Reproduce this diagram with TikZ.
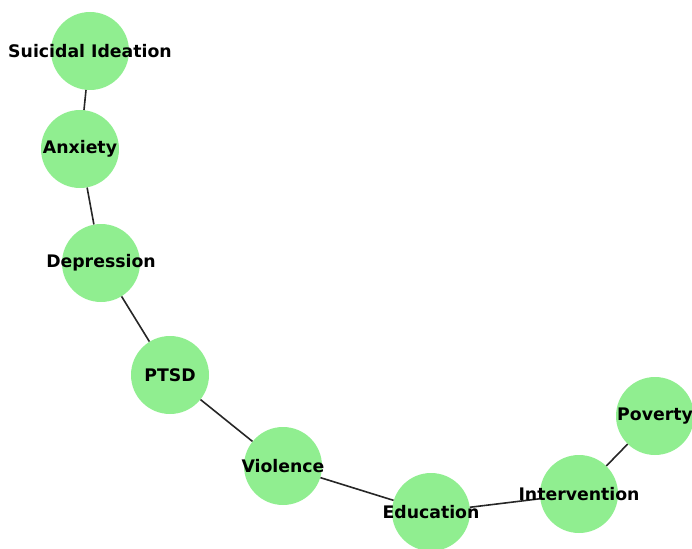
\documentclass[tikz,border=0pt]{standalone}
\usepackage{fontspec}
\setsansfont{DejaVu Sans}
\usepackage{tikz}
\usetikzlibrary{positioning}
\definecolor{lightgreen}{HTML}{90EE90}

\begin{document}
\begin{tikzpicture}[x=1pt,y=-1pt,
  main node/.style={circle,fill=lightgreen,minimum size=78pt,inner sep=0pt},
  main label/.style={font=\sffamily\bfseries\fontsize{17.3}{20}\selectfont,text=black}]
					\useasboundingbox (0,0) rectangle (692,548);
					\node[main node] (SI) at (90,51) {};
					\node[main node] (Anx) at (80,149) {};
					\node[main node] (Dep) at (101,263) {};
					\node[main node] (PTSD) at (170,375) {};
					\node[main node] (Vio) at (283,466) {};
					\node[main node] (Edu) at (431,512) {};
					\node[main node] (Int) at (579,494) {};
					\node[main node] (Pov) at (655,416) {};
				\path[draw=black!85,line width=1.6pt]
					(SI) edge (Anx)
					(Anx) edge (Dep)
					(Dep) edge (PTSD)
					(PTSD) edge (Vio)
					(Vio) edge (Edu)
					(Edu) edge (Int)
					(Int) edge (Pov);
				\foreach \n/\t in {SI/Suicidal Ideation,Anx/Anxiety,Dep/Depression,PTSD/PTSD,
					Vio/Violence,Edu/Education,Int/Intervention,Pov/Poverty}
					\node[main label] at (\n) {\t};
\end{tikzpicture}
\end{document}
